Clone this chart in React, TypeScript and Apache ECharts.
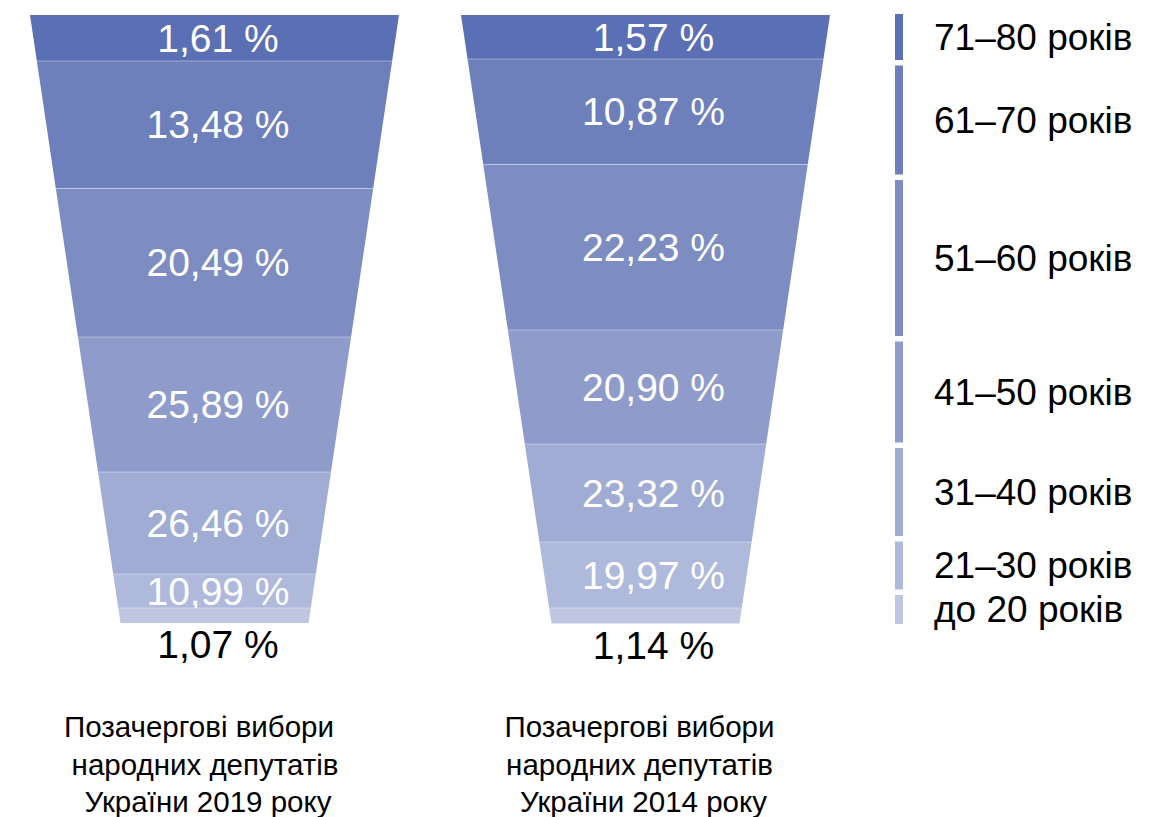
import React, { useEffect, useRef } from 'react';
import * as echarts from 'echarts';

// ---- data ----
const ageGroups = ['71–80 років', '61–70 років', '51–60 років', '41–50 років', '31–40 років', '21–30 років', 'до 20 років'];
const share2019 = [1.61, 13.48, 20.49, 25.89, 26.46, 10.99, 1.07];
const share2014 = [1.57, 10.87, 22.23, 20.9, 23.32, 19.97, 1.14];
// vertical extent of each band in the funnels (as drawn in the picture)
const bandSpan2019 = [46, 127.5, 148.5, 135, 102, 34, 15];
const bandSpan2014 = [44, 105.5, 165.5, 114, 98, 66, 15.5];
// vertical extent of each legend bar
const legendSpan = [46, 109, 156, 101, 88, 48, 29];
const caption2019 = ['Позачергові вибори', 'народних депутатів', 'України 2019 року'];
const caption2014 = ['Позачергові вибори', 'народних депутатів', 'України 2014 року'];

// ---- styles ----
const PALETTE = ['#5B70B4', '#6E80BC', '#7D8DC2', '#8F9CCB', '#A0ACD4', '#AFB9DB', '#BEC6E2'];
const FONT = '"Liberation Sans", Arial, sans-serif';
const NECK = 94 / 184.5;
const LEGEND_GAP = 5.5;

const sum = (a: number[]) => a.reduce((p, c) => p + c, 0);

function bands(spans: number[], shares: number[]) {
  let acc = 0;
  return spans.map((s, i) => {
    const item = [acc, acc + s, shares[i], i];
    acc += s;
    return item;
  });
}

function legendItems(spans: number[]) {
  let acc = 0;
  return spans.map((s, i) => {
    const item = [acc, acc + s, i];
    acc += s + LEGEND_GAP;
    return item;
  });
}

const fmt = (v: number) => v.toFixed(2).replace('.', ',') + ' %';

function funnelRender(total: number, n: number, shift: number) {
  return (params: any, api: any) => {
    const start = api.value(0);
    const end = api.value(1);
    const share = api.value(2);
    const idx = api.value(3);
    const half = (y: number) => 1 - (1 - NECK) * (y / total);
    const a = api.coord([-half(start), start]);
    const b = api.coord([half(start), start]);
    const c = api.coord([half(end), end]);
    const d = api.coord([-half(end), end]);
    const mid = api.coord([0, (start + end) / 2]);
    const last = idx === n - 1;
    const children: any[] = [
      { type: 'polygon', shape: { points: [a, b, c, d] }, style: { fill: PALETTE[idx] } },
    ];
    if (idx > 0) {
      children.push({
        type: 'line',
        shape: { x1: a[0], y1: a[1], x2: b[0], y2: b[1] },
        style: { stroke: 'rgba(255,255,255,0.35)', lineWidth: 1 },
      });
    }
    children.push({
      type: 'text',
      style: {
        text: fmt(share),
        x: mid[0] + shift,
        y: last ? c[1] + 21.5 : mid[1],
        fill: last ? '#000000' : '#ffffff',
        fontSize: 39,
        fontFamily: FONT,
        align: 'center',
        verticalAlign: 'middle',
      },
    });
    return { type: 'group', children };
  };
}

function legendRender(params: any, api: any) {
  const start = api.value(0);
  const end = api.value(1);
  const idx = api.value(2);
  const p0 = api.coord([0, start]);
  const p1 = api.coord([1, end]);
  return {
    type: 'group',
    children: [
      {
        type: 'rect',
        shape: { x: p0[0], y: p0[1], width: p1[0] - p0[0], height: p1[1] - p0[1] },
        style: { fill: PALETTE[idx] },
      },
      {
        type: 'text',
        style: {
          text: ageGroups[idx],
          x: p1[0] + 31,
          y: (p0[1] + p1[1]) / 2,
          fill: '#000000',
          fontSize: 37,
          fontFamily: FONT,
          align: 'left',
          verticalAlign: 'middle',
        },
      },
    ],
  };
}

function captionElements(lines: string[], centers: number[], middles: number[]) {
  return lines.map((t, i) => ({
    type: 'text',
    x: centers[i],
    y: middles[i],
    style: {
      text: t,
      fill: '#000000',
      fontSize: 29.5,
      fontFamily: FONT,
      align: 'center',
      verticalAlign: 'middle',
    },
  }));
}

export default function App() {
  const ref = useRef<HTMLDivElement>(null);
  useEffect(() => {
    if (!ref.current) return;
    const chart = echarts.init(ref.current, null, { renderer: 'svg' });
    const total2019 = sum(bandSpan2019);
    const total2014 = sum(bandSpan2014);
    const legendTotal = sum(legendSpan) + LEGEND_GAP * (legendSpan.length - 1);
    const middles = [726.5, 764.5, 801.5];
    chart.setOption({
      animation: false,
      backgroundColor: '#ffffff',
      grid: [
        { left: 30, top: 15, width: 369, height: 608 },
        { left: 461, top: 15, width: 369, height: 608.5 },
        { left: 895, top: 14, width: 8, height: 610 },
      ],
      xAxis: [
        { type: 'value', gridIndex: 0, min: -1, max: 1, show: false },
        { type: 'value', gridIndex: 1, min: -1, max: 1, show: false },
        { type: 'value', gridIndex: 2, min: 0, max: 1, show: false },
      ],
      yAxis: [
        { type: 'value', gridIndex: 0, min: 0, max: total2019, inverse: true, show: false },
        { type: 'value', gridIndex: 1, min: 0, max: total2014, inverse: true, show: false },
        { type: 'value', gridIndex: 2, min: 0, max: legendTotal, inverse: true, show: false },
      ],
      series: [
        {
          type: 'custom',
          xAxisIndex: 0,
          yAxisIndex: 0,
          silent: true,
          data: bands(bandSpan2019, share2019),
          renderItem: funnelRender(total2019, share2019.length, 3.5),
        },
        {
          type: 'custom',
          xAxisIndex: 1,
          yAxisIndex: 1,
          silent: true,
          data: bands(bandSpan2014, share2014),
          renderItem: funnelRender(total2014, share2014.length, 8),
        },
        {
          type: 'custom',
          xAxisIndex: 2,
          yAxisIndex: 2,
          silent: true,
          data: legendItems(legendSpan),
          renderItem: legendRender,
        },
      ],
      graphic: {
        elements: [
          ...captionElements(caption2019, [199, 205, 208], middles),
          ...captionElements(caption2014, [639.5, 639.5, 643.5], middles),
        ],
      },
    });
    return () => chart.dispose();
  }, []);
  return (
    <div
      ref={ref}
      style={{ position: 'absolute', left: 0, top: 0, width: 1171, height: 817 }}
    />
  );
}
